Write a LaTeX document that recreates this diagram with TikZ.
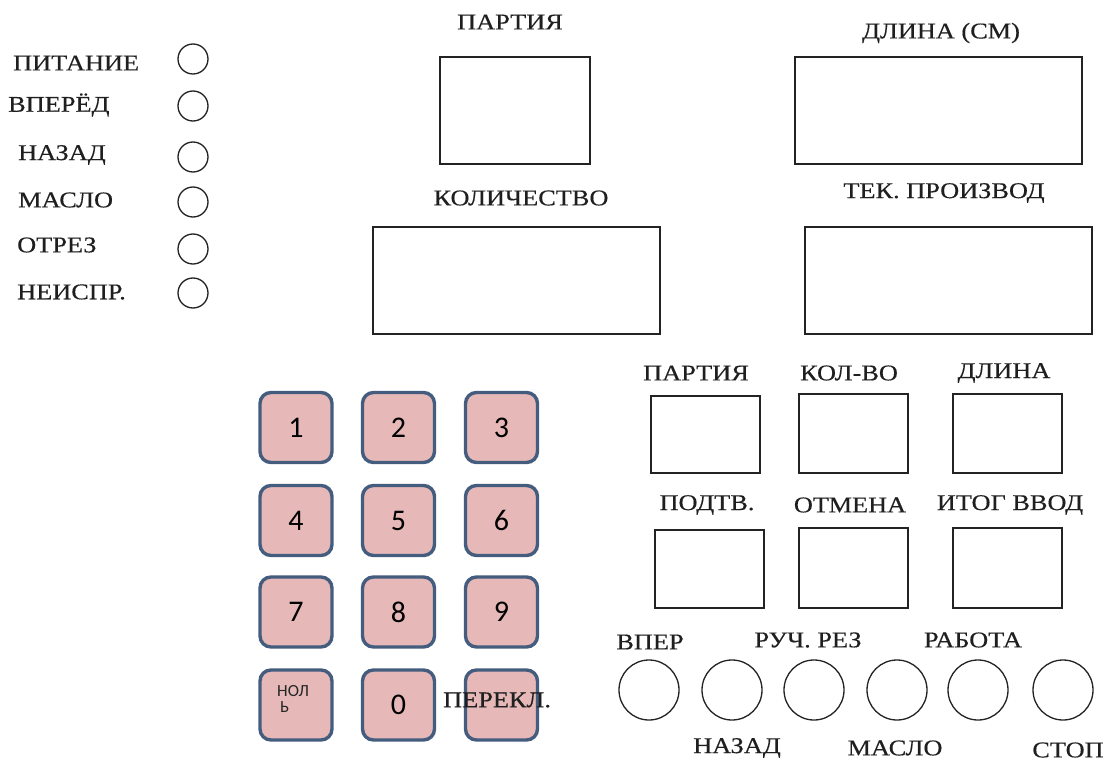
\documentclass[tikz,border=0pt]{standalone}
\usepackage{fontspec}
\setmainfont{Liberation Serif}[FakeStretch=1.17,FakeBold=0.4]
\newfontfamily\keyfont{Carlito}
\definecolor{keyfill}{RGB}{230,185,184}
\definecolor{keyline}{RGB}{68,92,126}
\definecolor{inkline}{RGB}{35,35,35}
\tikzset{
  lbl/.style={inner sep=0pt, font=\fontsize{22.5}{25}\selectfont, text=black!88},
  disp/.style={draw=inkline, line width=1.7pt, rectangle, inner sep=0pt},
  lamp/.style={draw=inkline, line width=1.3pt, circle, inner sep=0pt, minimum size=30pt},
  btn/.style={draw=inkline, line width=1.3pt, circle, inner sep=0pt, minimum size=60pt},
  key/.style={draw=keyline, fill=keyfill, line width=3.4pt, rounded corners=11pt,
     minimum width=72pt, minimum height=70pt, inner sep=0pt,
     font=\keyfont\fontsize{30}{32}\selectfont}
}
\begin{document}
\begin{tikzpicture}[x=1pt,y=-1pt]
\useasboundingbox[fill=white] (0,0) rectangle (1103,762);
% left indicators
\node[lbl, anchor=west] (tpit) at (13,63) {ПИТАНИЕ};
\node[lbl, anchor=west] (tvp) at (8,105) {ВПЕРЁД};
\node[lbl, anchor=west] (tnaz) at (18,155) {НАЗАД};
\node[lbl, anchor=west] (tmas) at (18,200) {МАСЛО};
\node[lbl, anchor=west] (totr) at (17,245) {ОТРЕЗ};
\node[lbl, anchor=west] (tnei) at (17,292) {НЕИСПР.};
\node[lamp] (l1) at (193,59) {};
\node[lamp] (l2) at (193,106) {};
\node[lamp] (l3) at (193,157) {};
\node[lamp] (l4) at (193,202) {};
\node[lamp] (l5) at (193,249) {};
\node[lamp] (l6) at (193,293) {};
% top displays
\node[lbl] (tpart) at (510,22) {ПАРТИЯ};
\node[disp, minimum width=150pt, minimum height=107pt] (d1) at (515,110.5) {};
\node[lbl] (tdl) at (941,33) {ДЛИНА (СМ)};
\node[disp, minimum width=287pt, minimum height=107pt] (d2) at (938.5,110.5) {};
\node[lbl] (tkol) at (521,198) {КОЛИЧЕСТВО};
\node[disp, minimum width=287pt, minimum height=107pt] (d3) at (516.5,280.5) {};
\node[lbl] (ttek) at (944,193) {ТЕК. ПРОИЗВОД};
\node[disp, minimum width=287pt, minimum height=107pt] (d4) at (948.5,280.5) {};
% keypad
\node[key] (k1) at (296,427.5) {1};
\node[key] (k2) at (398.5,427.5) {2};
\node[key] (k3) at (501.5,427.5) {3};
\node[key] (k4) at (296,520.5) {4};
\node[key] (k5) at (398.5,520.5) {5};
\node[key] (k6) at (501.5,520.5) {6};
\node[key] (k7) at (296,612) {7};
\node[key] (k8) at (398.5,612) {8};
\node[key] (k9) at (501.5,612) {9};
\node[key] (kn) at (296,705) {};
\node[key] (k0) at (398.5,705) {0};
\node[key] (kp) at (501.5,705) {};
\node[inner sep=0pt, anchor=north west, align=left, font=\keyfont\fontsize{17}{16}\selectfont, text=black!85] (tnol) at (277,685) {НОЛ\\\,Ь};
\node[lbl, anchor=west] (tper) at (443,700) {ПЕРЕКЛ.};
% small displays
\node[lbl] (tp2) at (696,373) {ПАРТИЯ};
\node[lbl] (tk2) at (849,373) {КОЛ-ВО};
\node[lbl] (td2) at (1004,373) {ДЛИНА};
\node[disp, minimum width=109pt, minimum height=77pt] (s1) at (705.5,434.5) {};
\node[disp, minimum width=109pt, minimum height=79pt] (s2) at (853.5,433.5) {};
\node[disp, minimum width=109pt, minimum height=79pt] (s3) at (1007.5,433.5) {};
\node[lbl] (tpod) at (707,505) {ПОДТВ.};
\node[lbl] (totm) at (850,505) {ОТМЕНА};
\node[lbl] (titg) at (1010,505) {ИТОГ ВВОД};
\node[disp, minimum width=109pt, minimum height=78pt] (s4) at (709.5,569) {};
\node[disp, minimum width=109pt, minimum height=80pt] (s5) at (853.5,568) {};
\node[disp, minimum width=109pt, minimum height=80pt] (s6) at (1007.5,568) {};
% bottom buttons
\node[btn] (b1) at (649,690) {};
\node[btn] (b2) at (732,690) {};
\node[btn] (b3) at (814,690) {};
\node[btn] (b4) at (897,690) {};
\node[btn] (b5) at (978,690) {};
\node[btn] (b6) at (1063,690) {};
\node[lbl] (tb1) at (650,642) {ВПЕР};
\node[lbl] (tb3) at (808,640) {РУЧ. РЕЗ};
\node[lbl] (tb5) at (973,640) {РАБОТА};
\node[lbl] (tb2) at (737,748) {НАЗАД};
\node[lbl] (tb4) at (895,748) {МАСЛО};
\node[lbl] (tb6) at (1068,750) {СТОП};
\end{tikzpicture}
\end{document}
